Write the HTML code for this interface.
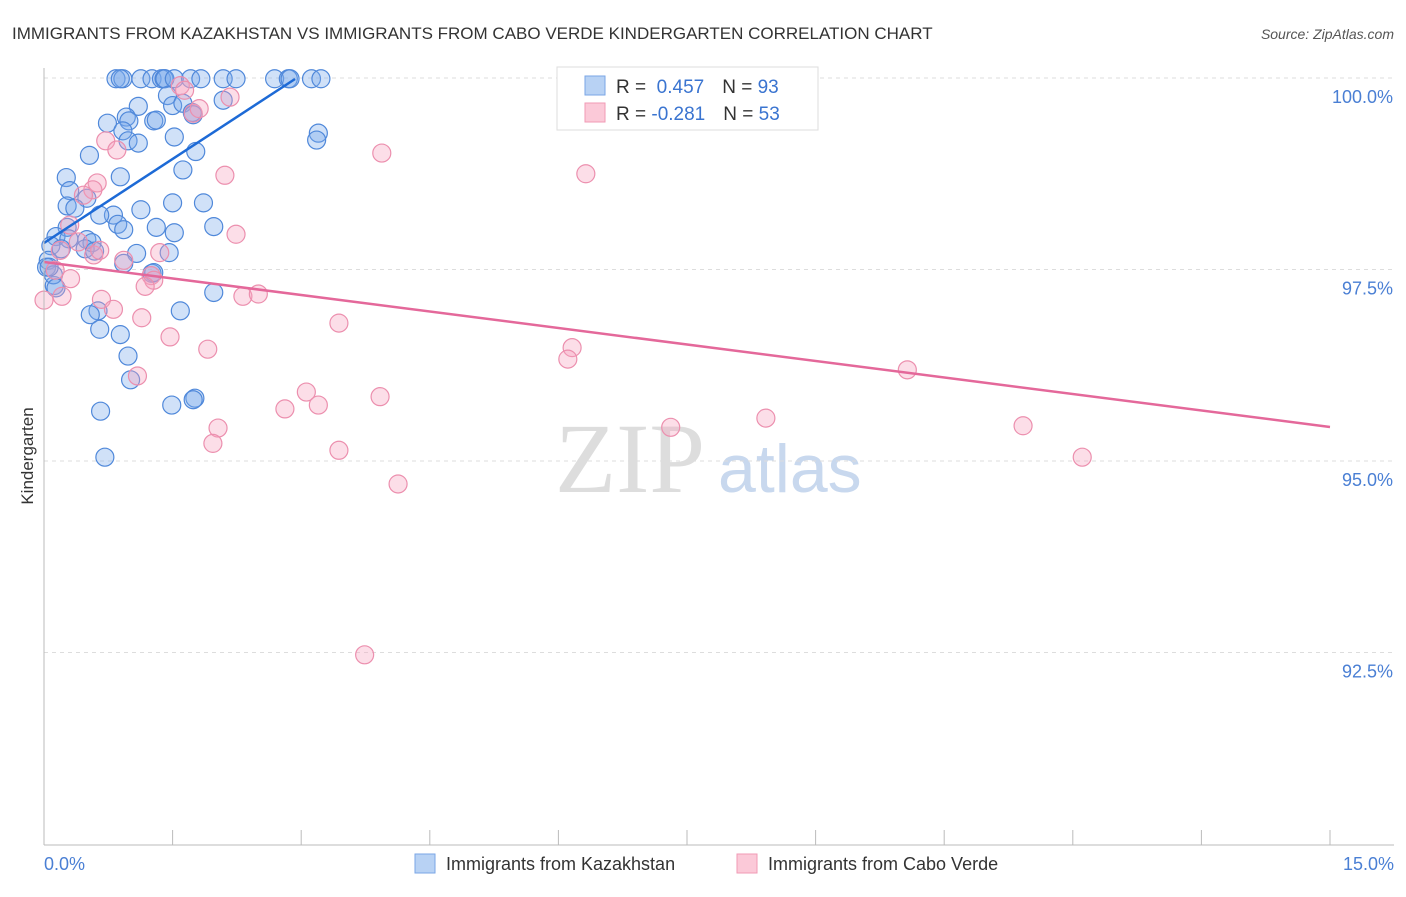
<!DOCTYPE html>
<html><head><meta charset="utf-8"><style>
body{margin:0;background:#fff;font-family:"Liberation Sans",sans-serif;}
</style></head><body>
<svg id="c" width="1406" height="892" xmlns="http://www.w3.org/2000/svg">
<text x="12" y="39" font-size="17" fill="#333">IMMIGRANTS FROM KAZAKHSTAN VS IMMIGRANTS FROM CABO VERDE KINDERGARTEN CORRELATION CHART</text>
<text x="1394" y="39" font-size="14" fill="#555" font-style="italic" text-anchor="end">Source: ZipAtlas.com</text>
<text x="555" y="492" font-size="100" fill="#ddd" font-family="Liberation Serif,serif">ZIP</text>
<text x="718" y="492" font-size="68" fill="#c8d8ee">atlas</text>
<text transform="translate(33,456) rotate(-90)" font-size="17" fill="#333" text-anchor="middle">Kindergarten</text>
<g id="grid"></g><g id="pts"></g><g id="lines"></g>
<line x1="44" y1="68" x2="44" y2="845" stroke="#bbb"/>
<line x1="44" y1="845" x2="1394" y2="845" stroke="#bbb"/>
<text x="44" y="870" font-size="18" fill="#4a7fd4">0.0%</text>
<text x="1394" y="870" font-size="18" fill="#4a7fd4" text-anchor="end">15.0%</text>
<g>
<rect x="557" y="67" width="261" height="63" fill="#fff" stroke="#ddd"/>
<rect x="585" y="76" width="20" height="19" fill="#b8d2f4" stroke="#7aa6e6"/>
<rect x="585" y="103" width="20" height="19" fill="#fbc9d8" stroke="#f09ab5"/>
<text x="616" y="93" font-size="19" fill="#333">R = <tspan fill="#3a74d0">&#160;0.457</tspan><tspan dx="18">N = </tspan><tspan fill="#3a74d0">93</tspan></text>
<text x="616" y="120" font-size="19" fill="#333">R = <tspan fill="#3a74d0">-0.281</tspan><tspan dx="18">N = </tspan><tspan fill="#3a74d0">53</tspan></text>
</g>
<g>
<rect x="415" y="854" width="20" height="19" fill="#b8d2f4" stroke="#7aa6e6"/>
<text x="446" y="870" font-size="18" fill="#333">Immigrants from Kazakhstan</text>
<rect x="737" y="854" width="20" height="19" fill="#fbc9d8" stroke="#f09ab5"/>
<text x="768" y="870" font-size="18" fill="#333">Immigrants from Cabo Verde</text>
</g>
</svg>
<script>
const yTicks=[100,97.5,95,92.5];
const yTickLabels=["100.0%","97.5%","95.0%","92.5%"];
const xTicks=[0,1.5,3,4.5,6,7.5,9,10.5,12,13.5,15];
const blueX=[0.84,0.92,0.89,1.13,1.26,1.37,1.40,1.41,1.52,1.71,1.83,2.09,2.24,2.69,2.85,2.87,3.12,3.23,1.44,1.10,1.50,1.62,1.73,2.09,1.74,0.96,1.28,1.31,0.74,0.99,0.92,1.52,0.98,1.10,0.53,1.77,3.20,3.18,1.62,0.89,0.26,0.30,0.50,1.86,0.27,0.36,1.50,0.81,1.13,0.65,1.98,1.31,0.86,1.52,0.93,0.27,0.14,0.29,0.50,0.56,0.08,0.20,0.48,1.08,1.46,0.59,0.05,0.93,1.26,0.03,0.12,1.98,1.28,0.63,0.54,0.65,0.89,1.59,0.98,1.01,0.66,1.49,1.76,1.74,0.71,0.11,0.14,0.06];
const blueY=[99.99,99.99,99.99,99.99,99.99,99.99,99.99,99.99,99.99,99.99,99.99,99.99,99.99,99.99,99.99,99.99,99.99,99.99,99.77,99.63,99.64,99.67,99.55,99.71,99.52,99.49,99.44,99.45,99.41,99.44,99.31,99.23,99.18,99.15,98.99,99.04,99.28,99.19,98.8,98.71,98.7,98.53,98.43,98.37,98.33,98.3,98.37,98.21,98.28,98.21,98.06,98.05,98.09,97.98,98.02,98.05,97.93,97.9,97.89,97.85,97.81,97.77,97.77,97.71,97.72,97.74,97.62,97.58,97.45,97.53,97.29,97.2,97.46,96.96,96.91,96.72,96.65,96.96,96.37,96.06,95.65,95.73,95.82,95.8,95.05,97.43,97.26,97.53];
const pinkX=[1.59,1.74,1.81,0.72,0.85,3.94,2.11,6.32,0.62,0.57,0.46,0.30,2.24,0.40,1.35,0.58,0.93,1.25,0.31,1.28,1.18,0.21,0.67,2.32,2.50,0.81,1.14,3.44,1.47,1.91,6.16,6.11,10.07,1.09,3.06,3.20,3.92,2.81,8.42,7.31,2.03,11.42,1.97,3.44,12.11,4.13,3.74,0,0.13,0.19,0.65,2.17,1.64];
const pinkY=[99.90,99.54,99.60,99.18,99.06,99.02,98.73,98.75,98.63,98.54,98.47,98.08,97.96,97.86,97.72,97.69,97.62,97.42,97.38,97.36,97.28,97.15,97.11,97.15,97.18,96.98,96.87,96.80,96.62,96.46,96.48,96.33,96.19,96.11,95.90,95.73,95.84,95.68,95.56,95.44,95.43,95.46,95.23,95.14,95.05,94.70,92.47,97.10,97.49,97.75,97.75,99.75,99.84];
const blueLine=[[0,97.846],[2.928,99.987]];
const pinkLine=[[0,97.598],[15,95.444]];
const X=v=>44+v/15*1286, Y=v=>78+(100-v)/2.5*191.5;
const NS="http://www.w3.org/2000/svg";
function mk(t,a,p){const e=document.createElementNS(NS,t);for(const k in a)e.setAttribute(k,a[k]);document.getElementById(p).appendChild(e);return e;}
yTicks.forEach((t,i)=>{
 const l=mk('line',{x1:44,x2:1394,y1:Y(t),y2:Y(t),stroke:'#ddd','stroke-dasharray':'4,4'},'grid');
 
 
 const tx=mk('text',{x:1393,y:Y(t)+25,'font-size':18,fill:'#4a7fd4','text-anchor':'end'},'grid');tx.textContent=yTickLabels[i];
 
 
});
xTicks.forEach(t=>{
 const l=mk('line',{x1:X(t),x2:X(t),y1:830,y2:845,stroke:'#bbb'},'grid');
 
 
});
blueX.forEach((v,i)=>{
 const c=mk('circle',{cx:X(v),cy:Y(blueY[i]),r:9,fill:'rgba(120,168,235,0.35)',stroke:'#4f88da','stroke-width':1.2},'pts');
 
 
});
pinkX.forEach((v,i)=>{
 const c=mk('circle',{cx:X(v),cy:Y(pinkY[i]),r:9,fill:'rgba(246,160,188,0.35)',stroke:'#ec8fae','stroke-width':1.2},'pts');
 
 
});
const b=mk('line',{x1:X(blueLine[0][0]),y1:Y(blueLine[0][1]),x2:X(blueLine[1][0]),y2:Y(blueLine[1][1]),stroke:'#1d6ad6','stroke-width':2.5},'lines');


const p=mk('line',{x1:X(pinkLine[0][0]),y1:Y(pinkLine[0][1]),x2:X(pinkLine[1][0]),y2:Y(pinkLine[1][1]),stroke:'#e4689a','stroke-width':2.5},'lines');


</script>
</body></html>
